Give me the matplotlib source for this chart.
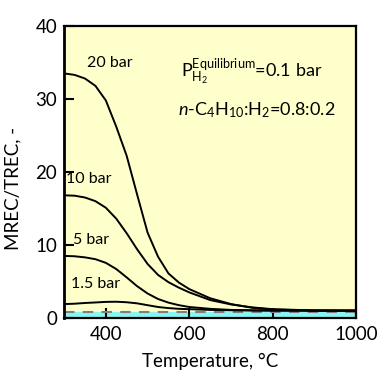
import matplotlib
matplotlib.use('Agg')
import matplotlib.pyplot as plt

plt.rcParams['font.family'] = ['Lato', 'DejaVu Sans']
plt.rcParams['mathtext.fontset'] = 'custom'
plt.rcParams['mathtext.rm'] = 'Lato'
plt.rcParams['mathtext.it'] = 'Lato:italic'

# temperature grid, degC
temp = [300, 325, 350, 375, 400, 425, 450, 475, 500, 525, 550, 575, 600, 650, 700, 750, 800, 900, 1000]
# MREC/TREC for each total pressure
bar20 = [33.5, 33.3, 32.8, 31.8, 29.8, 26.2, 22.2, 16.9, 11.7, 8.4, 6.1, 4.85, 3.95, 2.7, 1.9, 1.4, 1.15, 1.02, 1.0]
bar10 = [16.8, 16.75, 16.5, 16.0, 15.1, 13.6, 11.6, 9.4, 7.4, 5.9, 4.9, 4.15, 3.5, 2.45, 1.85, 1.45, 1.2, 1.03, 1.0]
bar5 = [8.5, 8.45, 8.3, 8.05, 7.55, 6.7, 5.55, 4.35, 3.35, 2.6, 2.1, 1.75, 1.5, 1.25, 1.1, 1.05, 1.02, 1.0, 1.0]
bar15 = [1.9, 1.95, 2.05, 2.12, 2.2, 2.22, 2.15, 2.0, 1.75, 1.5, 1.35, 1.25, 1.2, 1.1, 1.05, 1.02, 1.0, 1.0, 1.0]
labels = ['20 bar', '10 bar', '5 bar', '1.5 bar']
label_pos = [(354, 34.9), (304, 19.0), (321, 10.7), (316, 4.7)]
eq_level = 0.85   # dashed line
band_top = 0.75   # cyan band

fig = plt.figure(figsize=(3.77, 3.71), dpi=100)
ax = fig.add_axes([0.170, 0.143, 0.775, 0.787])
ax.set_facecolor('#FFFFCC')

ax.axhspan(0, band_top, color='#88F5F5', zorder=1)
ax.plot([temp[0], temp[-1]], [eq_level, eq_level], color='#7F7F7F', lw=1.5,
        dashes=(5, 4), zorder=2)

for ys in [bar20, bar10, bar5, bar15]:
    ax.plot(temp, ys, color='black', lw=1.4, zorder=3)

for txt, (x, y) in zip(labels, label_pos):
    ax.text(x, y, txt, fontsize=11.5, ha='left', va='center', zorder=4)

ax.text(581, 33.7, r'P$_{\mathregular{H_2}}^{\mathregular{Equilibrium}}$=0.1 bar',
        fontsize=13, ha='left', va='center')
ax.text(574, 28.5, r'$\it{n}$-C$_4$H$_{10}$:H$_2$=0.8:0.2',
        fontsize=13, ha='left', va='center')

ax.set_xlim(300, 1000)
ax.set_ylim(0, 40)
ax.set_xticks([400, 600, 800, 1000])
ax.set_yticks([0, 10, 20, 30, 40])
ax.tick_params(direction='in', length=7, width=1.5, labelsize=13.5)
ax.tick_params(axis='x', pad=6)
ax.tick_params(axis='y', pad=5)
for s in ax.spines.values():
    s.set_linewidth(1.6)
    s.set_color('black')
ax.spines['left'].set_linewidth(2.0)

ax.set_xlabel('Temperature, °C', fontsize=13.5, labelpad=7)
ax.set_ylabel('MREC/TREC, -', fontsize=13.5)
ax.yaxis.set_label_coords(-0.145, 0.445)

fig.savefig('out.png', dpi=100)
